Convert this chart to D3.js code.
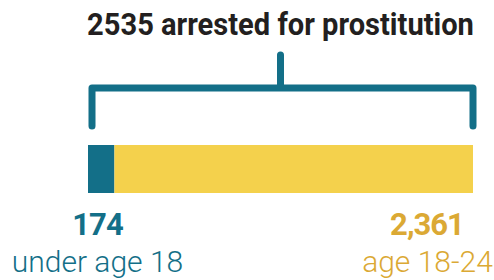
<!DOCTYPE html>
<html>
<head>
<meta charset="utf-8">
<script src="https://cdn.jsdelivr.net/npm/d3@7"></script>
<style>
  body { margin:0; background:#fff; }
  text { font-family: Roboto, "Liberation Sans", sans-serif; }
</style>
</head>
<body>
<svg id="chart" width="494" height="280"></svg>
<script>
// data
const total = 2535;
const groups = ["under age 18", "age 18-24"];
const counts = [174, 2361];
const colors = ["#136f88", "#f4d14c"];
const textColors = ["#136f88", "#dba934"];

const W = 494, H = 280;
const svg = d3.select("#chart");

const x = d3.scaleLinear().domain([0, total]).range([88, 473]);

// stacked segments
let acc = 0;
const segs = counts.map((c, i) => { const s = {x0: acc, x1: acc + c, i}; acc += c; return s; });

svg.selectAll("rect.seg")
  .data(segs)
  .join("rect")
  .attr("class", "seg")
  .attr("x", d => x(d.x0))
  .attr("width", d => x(d.x1) - x(d.x0))
  .attr("y", 145)
  .attr("height", 48)
  .attr("fill", d => colors[d.i]);

// bracket
const bx0 = x(0) + 4, bx1 = x(total), bmid = (x(0) + x(total)) / 2;
svg.append("path")
  .attr("d", `M${bx0},126 V88 H${bx1} V126 M${bmid},55 V88`)
  .attr("fill", "none")
  .attr("stroke", "#136f88")
  .attr("stroke-width", 7)
  .attr("stroke-linecap", "round")
  .attr("stroke-linejoin", "round");

// title -- condensed look by squeezing horizontally to fit the bracket width
const title = svg.append("text")
  .attr("text-anchor", "middle")
  .attr("font-size", 31).attr("font-weight", 700)
  .attr("fill", "#231f20")
  .text(`${total} arrested for prostitution`);
const tw = title.node().getComputedTextLength();
const sx = Math.min(1, 387 / tw);
title.attr("transform", `translate(${bmid},35) scale(${sx},1)`);

// values and labels
const numX = [97.5, 427], labX = [97.5, 427.5];
const fmt = d3.format(",");
svg.selectAll("text.num")
  .data(counts)
  .join("text")
  .attr("class", "num")
  .attr("x", (d, i) => numX[i]).attr("y", 235)
  .attr("text-anchor", "middle")
  .attr("font-size", 31).attr("font-weight", 700)
  .attr("letter-spacing", -1)
  .attr("fill", (d, i) => textColors[i])
  .text(d => d >= 1000 ? fmt(d) : d);

svg.selectAll("text.lab")
  .data(groups)
  .join("text")
  .attr("class", "lab")
  .attr("x", (d, i) => labX[i]).attr("y", 272)
  .attr("text-anchor", "middle")
  .attr("font-size", 30).attr("font-weight", 300)
  .attr("fill", (d, i) => textColors[i])
  .text(d => d);
</script>
</body>
</html>
